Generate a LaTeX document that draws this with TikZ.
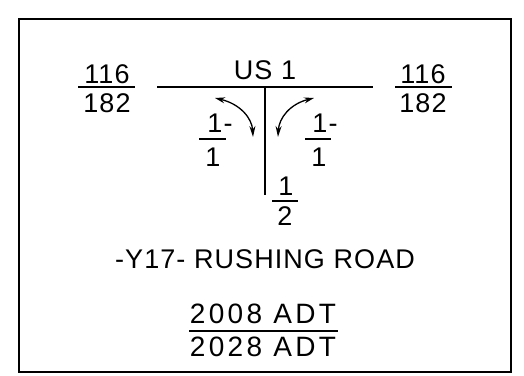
\documentclass[tikz,border=0pt]{standalone}
\usepackage{fontspec}
\setmainfont{Liberation Sans}
\newfontfamily\cadfont[LetterSpace=4]{Liberation Sans}
\newfontfamily\cadwide[LetterSpace=12]{Liberation Sans}
\usetikzlibrary{arrows.meta,positioning}

\begin{document}
\begin{tikzpicture}[x=1pt,y=-1pt,
  lbl/.style={inner sep=0pt,anchor=base,font=\cadfont\fontsize{27}{30}\selectfont},
  widelbl/.style={lbl,font=\cadwide\fontsize{28}{30}\selectfont},
  road/.style={line width=1.4pt},
  bar/.style={line width=1.2pt},
  turn/.style={line width=1.3pt,{Stealth[length=10pt,width=6pt]}-{Stealth[length=11pt,width=6pt]}}]
\useasboundingbox (0,0) rectangle (524,375);
\draw[line width=1.8pt] (19,19) rectangle (511,372);
% mainline and side road
\coordinate (mainW) at (157,87);
\coordinate (mainE) at (373,87);
\coordinate (tee) at (265,87);
\coordinate (sideS) at (265,195);
\draw[road] (mainW) -- (mainE);
\draw[road] (tee) -- (sideS);
\node[lbl] (usone) at (265,79) {US 1};
% west leg volumes
\node[lbl] (wnum) at (107,83) {116};
\node[lbl] (wden) at (107,112) {182};
\coordinate (wbarL) at (78,87);
\coordinate (wbarR) at (135,87);
\draw[bar] (wbarL) -- (wbarR);
% east leg volumes
\node[lbl] (enum) at (423,83) {116};
\node[lbl] (eden) at (423,112) {182};
\coordinate (ebarL) at (395,87);
\coordinate (ebarR) at (452,87);
\draw[bar] (ebarL) -- (ebarR);
% turning movements
\coordinate (ltA) at (215,98);
\coordinate (ltB) at (253,137);
\draw[turn] (ltA) .. controls (240,104) and (252,118) .. (ltB);
\coordinate (rtA) at (314,98);
\coordinate (rtB) at (278,137);
\draw[turn] (rtA) .. controls (290,104) and (279,118) .. (rtB);
\node[lbl] (ltnum) at (220,132) {1-};
\node[lbl] (ltden) at (213,166) {1};
\coordinate (ltbarL) at (199,139);
\coordinate (ltbarR) at (226,139);
\draw[bar] (ltbarL) -- (ltbarR);
\node[lbl] (rtnum) at (325,132) {1-};
\node[lbl] (rtden) at (319,166) {1};
\coordinate (rtbarL) at (305,139);
\coordinate (rtbarR) at (331,139);
\draw[bar] (rtbarL) -- (rtbarR);
% side road volumes
\node[lbl] (snum) at (286,195) {1};
\node[lbl] (sden) at (285,225) {2};
\coordinate (sbarL) at (272,201);
\coordinate (sbarR) at (298,201);
\draw[bar] (sbarL) -- (sbarR);
% titles
\node[lbl] (sidename) at (265,268) {-Y17- RUSHING ROAD};
\node[widelbl] (adtnow) at (263,323) {2008 ADT};
\node[widelbl] (adtfut) at (263,356) {2028 ADT};
\coordinate (abarL) at (189,331);
\coordinate (abarR) at (338,331);
\draw[bar] (abarL) -- (abarR);
\end{tikzpicture}
\end{document}
